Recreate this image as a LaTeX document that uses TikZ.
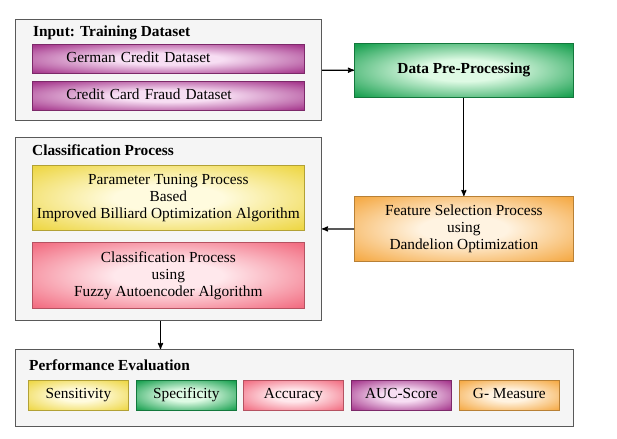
\documentclass[tikz,border=0pt]{standalone}
\usepackage{fontspec}
\setmainfont{Liberation Serif}
\usetikzlibrary{arrows,fit,positioning}
\definecolor{purpleout}{RGB}{165,55,140}
\definecolor{purplein}{RGB}{247,222,243}
\definecolor{greenout}{RGB}{25,160,80}
\definecolor{greenin}{RGB}{222,250,228}
\definecolor{yellowout}{RGB}{238,215,70}
\definecolor{yellowin}{RGB}{255,251,222}
\definecolor{pinkout}{RGB}{242,110,130}
\definecolor{pinkin}{RGB}{255,232,236}
\definecolor{orangeout}{RGB}{245,170,70}
\definecolor{orangein}{RGB}{255,243,225}
% glow shadings, light in the middle and coloured at the rim
\pgfdeclareradialshading{purpleglow}{\pgfpoint{0bp}{0bp}}{color(0bp)=(purplein); color(10bp)=(purplein); color(34bp)=(purpleout); color(50bp)=(purpleout)}
\pgfdeclareradialshading{greenglow}{\pgfpoint{0bp}{0bp}}{color(0bp)=(greenin); color(10bp)=(greenin); color(34bp)=(greenout); color(50bp)=(greenout)}
\pgfdeclareradialshading{yellowglow}{\pgfpoint{0bp}{0bp}}{color(0bp)=(yellowin); color(10bp)=(yellowin); color(34bp)=(yellowout); color(50bp)=(yellowout)}
\pgfdeclareradialshading{pinkglow}{\pgfpoint{0bp}{0bp}}{color(0bp)=(pinkin); color(10bp)=(pinkin); color(34bp)=(pinkout); color(50bp)=(pinkout)}
\pgfdeclareradialshading{orangeglow}{\pgfpoint{0bp}{0bp}}{color(0bp)=(orangein); color(10bp)=(orangein); color(34bp)=(orangeout); color(50bp)=(orangeout)}
\tikzset{
    %Define standard arrow tip
    >=stealth',
    %Define style for the grey frames
    panel/.style={
           rectangle,
           anchor=north west,
           draw=black!65, line width=1bp,
           fill=black!4},
    heading/.style={
           anchor=base west,
           inner sep=0pt,
           font=\fontsize{15.4}{17}\selectfont\bfseries},
    %Define style for shaded boxes
    glowbox/.style={
           rectangle,
           anchor=north west,
           line width=0.7bp,
           inner sep=0pt,
           align=center,
           font=\fontsize{15.4}{17}\selectfont},
    oneline/.style={
           text height=10.5bp,
           text depth=3.5bp},
    purplebox/.style={glowbox, draw=purpleout!75!black, shading=purpleglow},
    greenbox/.style={glowbox, draw=greenout!75!black, shading=greenglow},
    yellowbox/.style={glowbox, draw=yellowout!75!black, shading=yellowglow},
    pinkbox/.style={glowbox, draw=pinkout!75!black, shading=pinkglow},
    orangebox/.style={glowbox, draw=orangeout!75!black, shading=orangeglow},
    metric/.style={oneline, minimum width=100bp, minimum height=30bp},
    % Define arrow style
    pil/.style={
           ->,
           line width=1.2bp}
}
\begin{document}
\begin{tikzpicture}[x=1bp,y=-1bp]
\useasboundingbox (0,0) rectangle (617,439);
% input frame
\node[panel, minimum width=306bp, minimum height=101bp] (input) at (15,19) {};
\node[heading] (inputtitle) at (33,37) {Input: Training Dataset};
\node[purplebox, oneline, minimum width=272bp, minimum height=29bp, text width=204bp, inner xsep=34bp, align=left] (german) at (32,44) {German Credit Dataset};
\node[purplebox, oneline, minimum width=272bp, minimum height=29bp, text width=204bp, inner xsep=34bp, align=left] (fraud) at (32,81) {Credit Card Fraud Dataset};
% right column
\node[greenbox, oneline, minimum width=219bp, minimum height=54bp, font=\fontsize{15.4}{17}\selectfont\bfseries] (prep) at (354,43) {Data Pre-Processing};
\node[orangebox, minimum width=219bp, minimum height=65bp] (feat) at (354,196) {Feature Selection Process\\using\\Dandelion Optimization};
% classification frame
\node[panel, minimum width=306bp, minimum height=183bp] (classif) at (15,137) {};
\node[heading] (classiftitle) at (32,156) {Classification Process};
\node[yellowbox, minimum width=272bp, minimum height=65bp] (tune) at (32,165) {Parameter Tuning Process\\Based\\Improved Billiard Optimization Algorithm};
\node[pinkbox, minimum width=272bp, minimum height=66bp] (fuzzy) at (32,242) {Classification Process\\using\\Fuzzy Autoencoder Algorithm};
% performance frame
\node[panel, minimum width=558bp, minimum height=77bp] (perf) at (15,349) {};
\node[heading] (perftitle) at (29,370) {Performance Evaluation};
\node[yellowbox, metric] (sens) at (28,380) {Sensitivity};
\node[greenbox, metric] (spec) at (136,380) {Specificity};
\node[pinkbox, metric] (acc) at (243,380) {Accuracy};
\node[purplebox, metric] (auc) at (351,380) {AUC-Score};
\node[orangebox, metric] (gm) at (459,380) {G- Measure};
% connectors
\draw[pil] (input) -- (prep);
\draw[pil] (prep) -- (feat);
\draw[pil] (feat) -- (classif);
\draw[pil] ([xshift=-8bp]classif.south) -- ([xshift=-8bp]classif.south |- perf.north);
\end{tikzpicture}
\end{document}
